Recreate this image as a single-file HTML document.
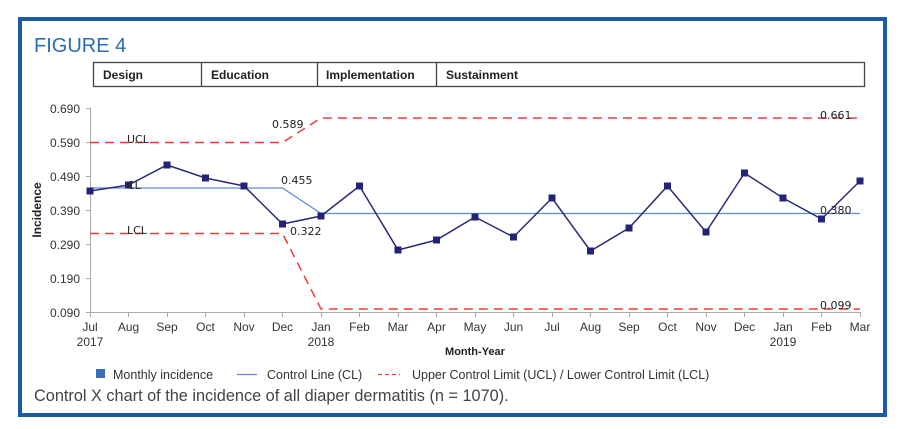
<!DOCTYPE html>
<html><head><meta charset="utf-8"><style>
html,body{margin:0;padding:0;background:#fff;}
svg{display:block;font-family:"Liberation Sans",Arial,sans-serif;}
</style></head><body>
<svg width="900" height="429" viewBox="0 0 900 429" xmlns="http://www.w3.org/2000/svg">
<rect x="20" y="19" width="865" height="396" fill="#fff" stroke="#1c5aa3" stroke-width="4"/>
<text x="34" y="52" font-size="20" fill="#2b6cb3">FIGURE 4</text>
<rect x="93.5" y="62.5" width="771" height="24" fill="none" stroke="#444" stroke-width="1.3"/>
<line x1="201.5" y1="62" x2="201.5" y2="87" stroke="#444" stroke-width="1.3"/>
<line x1="317.5" y1="62" x2="317.5" y2="87" stroke="#444" stroke-width="1.3"/>
<line x1="436.5" y1="62" x2="436.5" y2="87" stroke="#444" stroke-width="1.3"/>
<g font-size="12" font-weight="bold" fill="#222">
<text x="103" y="79">Design</text>
<text x="211" y="79">Education</text>
<text x="326" y="79">Implementation</text>
<text x="446" y="79">Sustainment</text>
</g>
<line x1="90.5" y1="108" x2="90.5" y2="313" stroke="#aaa" stroke-width="1"/>
<line x1="90" y1="312.5" x2="861" y2="312.5" stroke="#aaa" stroke-width="1"/>
<g stroke="#aaa" stroke-width="1">
<line x1="86" y1="108.5" x2="90" y2="108.5"/><line x1="86" y1="142.5" x2="90" y2="142.5"/>
<line x1="86" y1="176.5" x2="90" y2="176.5"/><line x1="86" y1="210.5" x2="90" y2="210.5"/>
<line x1="86" y1="244.5" x2="90" y2="244.5"/><line x1="86" y1="278.5" x2="90" y2="278.5"/>
<line x1="86" y1="312.5" x2="90" y2="312.5"/>
</g>
<g stroke="#aaa" stroke-width="1">
<line x1="90.5" y1="312" x2="90.5" y2="317"/><line x1="128.5" y1="312" x2="128.5" y2="317"/>
<line x1="167.5" y1="312" x2="167.5" y2="317"/><line x1="205.5" y1="312" x2="205.5" y2="317"/>
<line x1="244.5" y1="312" x2="244.5" y2="317"/><line x1="282.5" y1="312" x2="282.5" y2="317"/>
<line x1="321.5" y1="312" x2="321.5" y2="317"/><line x1="359.5" y1="312" x2="359.5" y2="317"/>
<line x1="398.5" y1="312" x2="398.5" y2="317"/><line x1="436.5" y1="312" x2="436.5" y2="317"/>
<line x1="475.5" y1="312" x2="475.5" y2="317"/><line x1="513.5" y1="312" x2="513.5" y2="317"/>
<line x1="552.5" y1="312" x2="552.5" y2="317"/><line x1="590.5" y1="312" x2="590.5" y2="317"/>
<line x1="629.5" y1="312" x2="629.5" y2="317"/><line x1="667.5" y1="312" x2="667.5" y2="317"/>
<line x1="706.5" y1="312" x2="706.5" y2="317"/><line x1="744.5" y1="312" x2="744.5" y2="317"/>
<line x1="783.5" y1="312" x2="783.5" y2="317"/><line x1="821.5" y1="312" x2="821.5" y2="317"/>
<line x1="860.5" y1="312" x2="860.5" y2="317"/>
</g>
<g font-size="12" fill="#333" text-anchor="end">
<text x="80" y="113">0.690</text><text x="80" y="147">0.590</text>
<text x="80" y="181">0.490</text><text x="80" y="215">0.390</text>
<text x="80" y="249">0.290</text><text x="80" y="283">0.190</text>
<text x="80" y="317">0.090</text>
</g>
<text transform="translate(41,210) rotate(-90)" font-size="12" font-weight="bold" fill="#222" text-anchor="middle">Incidence</text>
<g font-size="12" fill="#333" text-anchor="middle">
<text x="90" y="331">Jul</text><text x="128.5" y="331">Aug</text><text x="167" y="331">Sep</text>
<text x="205.5" y="331">Oct</text><text x="244" y="331">Nov</text><text x="282.5" y="331">Dec</text>
<text x="321" y="331">Jan</text><text x="359.5" y="331">Feb</text><text x="398" y="331">Mar</text>
<text x="436.5" y="331">Apr</text><text x="475" y="331">May</text><text x="513.5" y="331">Jun</text>
<text x="552" y="331">Jul</text><text x="590.5" y="331">Aug</text><text x="629" y="331">Sep</text>
<text x="667.5" y="331">Oct</text><text x="706" y="331">Nov</text><text x="744.5" y="331">Dec</text>
<text x="783" y="331">Jan</text><text x="821.5" y="331">Feb</text><text x="860" y="331">Mar</text>
<text x="90" y="346">2017</text><text x="321" y="346">2018</text><text x="783" y="346">2019</text>
</g>
<text x="475" y="355" font-size="11" font-weight="bold" fill="#222" text-anchor="middle">Month-Year</text>
<polyline points="90,142.5 282.5,142.5 321,118 860,118" fill="none" stroke="#ee3a3a" stroke-width="1.5" stroke-dasharray="9,6"/>
<polyline points="90,233.5 282.5,233.5 321,309 860,309" fill="none" stroke="#ee3a3a" stroke-width="1.5" stroke-dasharray="9,6"/>
<polyline points="90,188 282.5,188 321,213.5 860,213.5" fill="none" stroke="#5b8bd6" stroke-width="1.2"/>
<polyline points="90,191 128.5,185 167,165 205.5,178 244,186 282.5,224 321,216 359.5,186 398,250 436.5,240 475,217 513.5,237 552,198 590.5,251 629,228 667.5,186 706,232 744.5,173 783,198 821.5,219 860,181" fill="none" stroke="#2a2a7a" stroke-width="1.5"/>
<g fill="#23237a">
<rect x="86.5" y="187.5" width="7" height="7"/><rect x="125" y="181.5" width="7" height="7"/>
<rect x="163.5" y="161.5" width="7" height="7"/><rect x="202" y="174.5" width="7" height="7"/>
<rect x="240.5" y="182.5" width="7" height="7"/><rect x="279" y="220.5" width="7" height="7"/>
<rect x="317.5" y="212.5" width="7" height="7"/><rect x="356" y="182.5" width="7" height="7"/>
<rect x="394.5" y="246.5" width="7" height="7"/><rect x="433" y="236.5" width="7" height="7"/>
<rect x="471.5" y="213.5" width="7" height="7"/><rect x="510" y="233.5" width="7" height="7"/>
<rect x="548.5" y="194.5" width="7" height="7"/><rect x="587" y="247.5" width="7" height="7"/>
<rect x="625.5" y="224.5" width="7" height="7"/><rect x="664" y="182.5" width="7" height="7"/>
<rect x="702.5" y="228.5" width="7" height="7"/><rect x="741" y="169.5" width="7" height="7"/>
<rect x="779.5" y="194.5" width="7" height="7"/><rect x="818" y="215.5" width="7" height="7"/>
<rect x="856.5" y="177.5" width="7" height="7"/>
</g>
<g font-size="11" fill="#222" font-family="'DejaVu Sans',sans-serif">
<text x="127" y="143">UCL</text><text x="127" y="189">CL</text><text x="127" y="234">LCL</text>
<text x="272" y="128">0.589</text><text x="281" y="184">0.455</text><text x="290" y="235">0.322</text>
<text x="820" y="119">0.661</text><text x="820" y="214">0.380</text><text x="820" y="309">0.099</text>
</g>
<rect x="96" y="369" width="9" height="9" fill="#3a6cb8"/>
<text x="113" y="379" font-size="12.5" fill="#333">Monthly incidence</text>
<line x1="237" y1="374.5" x2="257" y2="374.5" stroke="#5b8bd6" stroke-width="1.2"/>
<text x="267" y="379" font-size="12.5" fill="#333">Control Line (CL)</text>
<line x1="378" y1="374.5" x2="400" y2="374.5" stroke="#ee3a3a" stroke-width="1.2" stroke-dasharray="4,3"/>
<text x="412" y="379" font-size="12.5" fill="#333">Upper Control Limit (UCL) / Lower Control Limit (LCL)</text>
<text x="34" y="401" font-size="16.3" fill="#444">Control X chart of the incidence of all diaper dermatitis (n = 1070).</text>
</svg>
</body></html>
